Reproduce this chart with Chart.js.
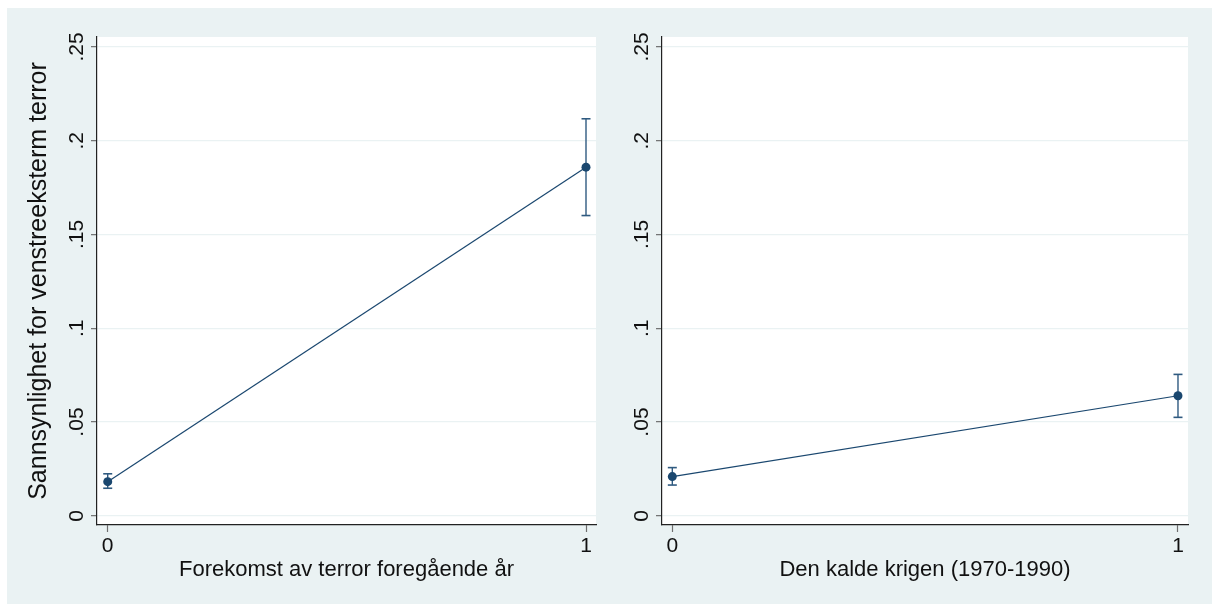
<!DOCTYPE html>
<html>
<head>
<meta charset="utf-8">
<script src="https://cdn.jsdelivr.net/npm/chart.js@4/dist/chart.umd.min.js"></script>
<style>
  html, body { margin: 0; padding: 0; background: #ffffff; }
  body { width: 1212px; height: 604px; position: relative; overflow: hidden; }
  #bg { position: absolute; left: 7px; top: 8px; right: 0; bottom: 0; background: #eaf2f3; }
  #c1 { position: absolute; left: 0; top: 0; }
  #c2 { position: absolute; left: 630px; top: 0; }
</style>
</head>
<body>
<div id="bg"></div>
<canvas id="c1" width="630" height="604"></canvas>
<canvas id="c2" width="582" height="604"></canvas>
<script>
// ---- data ----
const categories = [0, 1];
const xTickLabels = ['0', '1'];
const yTickValues = [0, 0.05, 0.1, 0.15, 0.2, 0.25];
const yTickLabels = ['0', '.05', '.1', '.15', '.2', '.25'];

const leftTitle = 'Forekomst av terror foregående år';
const leftValues = [0.0182, 0.1859];
const leftLower = [0.0147, 0.1601];
const leftUpper = [0.0224, 0.2117];

const rightTitle = 'Den kalde krigen (1970-1990)';
const rightValues = [0.0209, 0.0640];
const rightLower = [0.0164, 0.0525];
const rightUpper = [0.0257, 0.0754];

const yTitle = 'Sannsynlighet for venstreeksterm terror';

// ---- styles ----
const FONT = "'Liberation Sans', Arial, Helvetica, sans-serif";
const NAVY = '#1a476f';
const CI_COLOR = '#2f5a80';
const GRID = '#eaf2f3';

const whiteArea = {
  id: 'whiteArea',
  beforeDraw(chart) {
    const {ctx, chartArea: a} = chart;
    ctx.save();
    ctx.fillStyle = '#ffffff';
    ctx.fillRect(a.left, a.top, a.right - a.left, a.bottom - a.top);
    ctx.restore();
  }
};

function makeChart(canvasId, opts) {
  const mainData = categories.map((c, i) => ({x: c, y: opts.values[i]}));
  const ciSets = categories.map((c, i) => ({
    type: 'line',
    data: [{x: c, y: opts.lower[i]}, {x: c, y: opts.upper[i]}],
    borderColor: CI_COLOR,
    borderWidth: 1.4,
    pointStyle: 'line',
    pointRadius: 4.5,
    pointBorderWidth: 1.6,
    pointBorderColor: CI_COLOR,
    pointHoverRadius: 4.5,
    fill: false
  }));
  return new Chart(document.getElementById(canvasId), {
    type: 'line',
    data: {
      datasets: [{
        data: mainData,
        borderColor: NAVY,
        borderWidth: 1.2,
        pointRadius: 4.5,
        pointBackgroundColor: NAVY,
        pointBorderColor: NAVY,
        pointBorderWidth: 0,
        fill: false,
        tension: 0
      }].concat(ciSets)
    },
    options: {
      responsive: false,
      animation: false,
      events: [],
      layout: { padding: { left: 0, top: 37, right: opts.padRight, bottom: 0 } },
      plugins: { legend: { display: false }, tooltip: { enabled: false } },
      scales: {
        x: {
          type: 'linear',
          min: opts.xMin,
          max: opts.xMax,
          afterBuildTicks: (s) => { s.ticks = categories.map(v => ({value: v})); },
          afterFit: (s) => { s.height = 79; },
          ticks: {
            callback: (v) => xTickLabels[categories.indexOf(v)],
            font: { family: FONT, size: 21 },
            color: '#111111',
            padding: 2,
            autoSkip: false,
            maxRotation: 0
          },
          grid: { drawOnChartArea: false, drawTicks: true, tickLength: 7, tickColor: '#6e6e6e', tickWidth: 1.2 },
          border: { display: true, color: '#222222', width: 1.2 },
          title: {
            display: true,
            text: opts.xTitle,
            font: { family: FONT, size: 22 },
            color: '#111111',
            padding: { top: 0, bottom: 21 }
          }
        },
        y: {
          type: 'linear',
          min: -0.0049,
          max: 0.2553,
          afterBuildTicks: (s) => { s.ticks = yTickValues.map(v => ({value: v})); },
          afterFit: (s) => { s.width = opts.yWidth; },
          ticks: {
            callback: (v) => { const i = yTickValues.findIndex(t => Math.abs(t - v) < 1e-9); return yTickLabels[i]; },
            font: { family: FONT, size: 21 },
            color: '#111111',
            minRotation: 90,
            maxRotation: 90,
            crossAlign: 'center',
            padding: -1,
            autoSkip: false
          },
          grid: { color: GRID, lineWidth: 1.3, drawTicks: true, tickLength: 6, tickColor: '#6e6e6e', tickWidth: 1.2 },
          border: { display: true, color: '#222222', width: 1.2 },
          title: {
            display: !!opts.yTitle,
            text: opts.yTitle || '',
            font: { family: FONT, size: 25 },
            color: '#111111',
            padding: { top: 24, bottom: 0 }
          }
        }
      }
    },
    plugins: [whiteArea]
  });
}

makeChart('c1', {
  values: leftValues, lower: leftLower, upper: leftUpper,
  xTitle: leftTitle, yTitle: yTitle,
  xMin: -0.0224, xMax: 1.0209, yWidth: 97, padRight: 34
});
makeChart('c2', {
  values: rightValues, lower: rightLower, upper: rightUpper,
  xTitle: rightTitle, yTitle: null,
  xMin: -0.0204, xMax: 1.0198, yWidth: 32, padRight: 24
});
</script>
</body>
</html>
